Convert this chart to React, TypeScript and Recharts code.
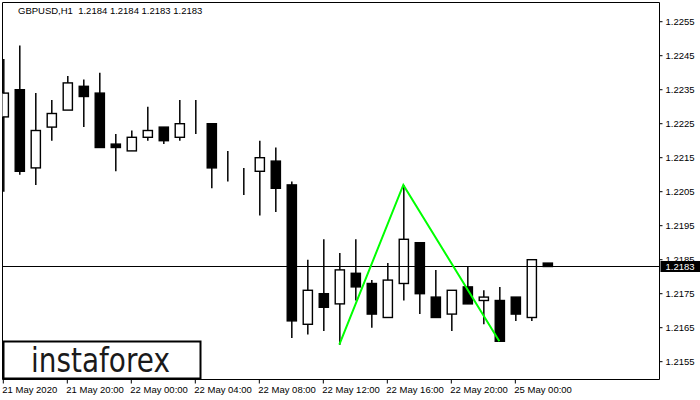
import React from "react";
import {
  ComposedChart,
  Bar,
  Line,
  XAxis,
  YAxis,
  ReferenceLine,
  ReferenceArea,
} from "recharts";

// H1 candles, 21 May 16:00 .. 25 May 02:00
const opens = [
  1.2227, 1.2235, 1.2212, 1.2224, 1.2229, 1.2236, 1.2234, 1.2219, 1.2217, 1.2221,
  1.2224, 1.2221, 1.2226, 1.2225, 1.2211, 1.221, 1.2211, 1.2214, 1.2207, 1.2166,
  1.2175, 1.2172, 1.2181, 1.2178, 1.2168, 1.2178, 1.219, 1.2174, 1.2169, 1.2177,
  1.2173, 1.2173, 1.2174, 1.2168, 1.2184,
];
const highs = [
  1.2244, 1.2248, 1.2234, 1.2232, 1.2239, 1.2238, 1.224, 1.2222, 1.2223, 1.223,
  1.2224, 1.2232, 1.2232, 1.2225, 1.2217, 1.2212, 1.222, 1.2218, 1.2208, 1.2185,
  1.2191, 1.2187, 1.2191, 1.2179, 1.2184, 1.2207, 1.219, 1.2182, 1.2176, 1.2183,
  1.2176, 1.2177, 1.2174, 1.2185, 1.2184,
];
const lows = [
  1.2205, 1.221, 1.2207, 1.222, 1.2229, 1.2224, 1.2218, 1.2211, 1.2217, 1.222,
  1.2219, 1.222, 1.2222, 1.2206, 1.2208, 1.2204, 1.2198, 1.2199, 1.2162, 1.2163,
  1.2164, 1.216, 1.2173, 1.2165, 1.2168, 1.2173, 1.2169, 1.2168, 1.2164, 1.2172,
  1.2166, 1.2161, 1.2167, 1.2167, 1.2183,
];
const closes = [
  1.2234, 1.2211, 1.2223, 1.2228, 1.2237, 1.2233, 1.2218, 1.2218, 1.2221, 1.2223,
  1.222, 1.2225, 1.2226, 1.2212, 1.2211, 1.221, 1.2215, 1.2206, 1.2167, 1.2176,
  1.2171, 1.2182, 1.2177, 1.2169, 1.2179, 1.2191, 1.2175, 1.2168, 1.2176, 1.2172,
  1.2174, 1.2161, 1.2169, 1.2185, 1.2183,
];

// double top pattern (bar index -> price)
const patternBars = [21, 25, 31];
const patternPrices = [1.216, 1.2207, 1.2161];

const timeTicks = [0, 4, 8, 12, 16, 20, 24, 28, 32];
const timeLabels = [
  "21 May 2020",
  "21 May 20:00",
  "22 May 00:00",
  "22 May 04:00",
  "22 May 08:00",
  "22 May 12:00",
  "22 May 16:00",
  "22 May 20:00",
  "25 May 00:00",
];
const priceTicks = [
  1.2155, 1.2165, 1.2175, 1.2185, 1.2195, 1.2205, 1.2215, 1.2225, 1.2235, 1.2245,
  1.2255,
];
const lastPrice = 1.2183;
const title = "GBPUSD,H1  1.2184 1.2184 1.2183 1.2183";

const xDomain: [number, number] = [-0.05, 41.01];
const yDomain: [number, number] = [1.214976, 1.226065];
const FONT = "'Liberation Sans', Arial, sans-serif";

const data = opens.map((o, i) => {
  const k = patternBars.indexOf(i);
  return {
    i,
    open: o,
    high: highs[i],
    low: lows[i],
    close: closes[i],
    pattern: k >= 0 ? patternPrices[k] : null,
  };
});

function Candle(props: any) {
  const { x, y, width, height, payload } = props;
  if (x == null || y == null) return null;
  const top = Math.min(y, y + height);
  const bottom = Math.max(y, y + height);
  const span = payload.high - payload.low || 1;
  const toY = (p: number) => top + ((payload.high - p) / span) * (bottom - top);
  const cx = x + width / 2;
  const yo = toY(payload.open);
  const yc = toY(payload.close);
  const up = payload.close >= payload.open;
  return (
    <g>
      <line x1={cx} x2={cx} y1={top} y2={bottom} stroke="#000" strokeWidth={1.5} />
      <rect
        x={cx - 4.6}
        y={Math.min(yo, yc)}
        width={9.2}
        height={Math.abs(yo - yc)}
        fill={up ? "#fff" : "#000"}
        stroke="#000"
        strokeWidth={1.4}
      />
    </g>
  );
}

function TimeTick(props: any) {
  const { x, y, payload } = props;
  const label = timeLabels[timeTicks.indexOf(payload.value)];
  return (
    <text x={x - 1} y={y + 7} fontSize={9.5} fontFamily={FONT} fill="#000" textAnchor="start">
      {label}
    </text>
  );
}

function PriceTag(props: any) {
  const vb = props.viewBox || {};
  const x = (vb.x || 0) + (vb.width || 0) + 1;
  const y = vb.y || 0;
  return (
    <g>
      <rect x={x} y={y - 5.5} width={41} height={11} fill="#000" />
      <text x={x + 5} y={y + 3.5} fontSize={9.5} fontFamily={FONT} fill="#fff">
        {lastPrice.toFixed(4)}
      </text>
    </g>
  );
}

export default function App() {
  return (
    <div style={{ position: "fixed", left: 0, top: 0, width: 700, height: 400, background: "#fff" }}>
      <ComposedChart
        width={700}
        height={400}
        data={data}
        margin={{ top: 2.5, left: 2.5, right: 0, bottom: 0 }}
      >
        <XAxis
          dataKey="i"
          type="number"
          domain={xDomain}
          ticks={timeTicks}
          interval={0}
          allowDataOverflow
          height={20.5}
          axisLine={false}
          tickSize={4}
          tickLine={{ stroke: "#000" }}
          tick={<TimeTick />}
        />
        <YAxis
          orientation="right"
          type="number"
          domain={yDomain}
          ticks={priceTicks}
          interval={0}
          allowDataOverflow
          width={40.5}
          axisLine={false}
          tickSize={3}
          tickMargin={3}
          tickLine={{ stroke: "#000" }}
          tick={{ fill: "#000", fontSize: 9.5, fontFamily: FONT }}
          tickFormatter={(v: number) => v.toFixed(4)}
        />
        <ReferenceArea
          x1={xDomain[0]}
          x2={xDomain[1]}
          y1={yDomain[0]}
          y2={yDomain[1]}
          fill="none"
          stroke="#000"
          strokeWidth={1}
          ifOverflow="visible"
        />
        <ReferenceLine y={lastPrice} stroke="#000" strokeWidth={1.2} label={<PriceTag />} />
        <Bar
          dataKey={(d: any) => [d.low, d.high]}
          barSize={11}
          shape={<Candle />}
          isAnimationActive={false}
        />
        <Line
          dataKey="pattern"
          stroke="#00ff00"
          strokeWidth={2}
          dot={false}
          activeDot={false}
          connectNulls
          isAnimationActive={false}
        />
      </ComposedChart>
      <svg
        width={700}
        height={400}
        style={{ position: "absolute", left: 0, top: 0, pointerEvents: "none" }}
      >
        <text x={18} y={14} fontSize={9.5} fontFamily={FONT} fill="#000" style={{ whiteSpace: "pre" }}>
          {title}
        </text>
        <rect x={3.5} y={341.5} width={197} height={37} fill="#fff" stroke="#000" strokeWidth={2} />
        <text
          x={31}
          y={371.5}
          fontSize={33}
          fontFamily="'DejaVu Sans', sans-serif"
          fill="#1a1a1a"
          textLength={139}
          lengthAdjust="spacingAndGlyphs"
        >
          instaforex
        </text>
      </svg>
    </div>
  );
}
